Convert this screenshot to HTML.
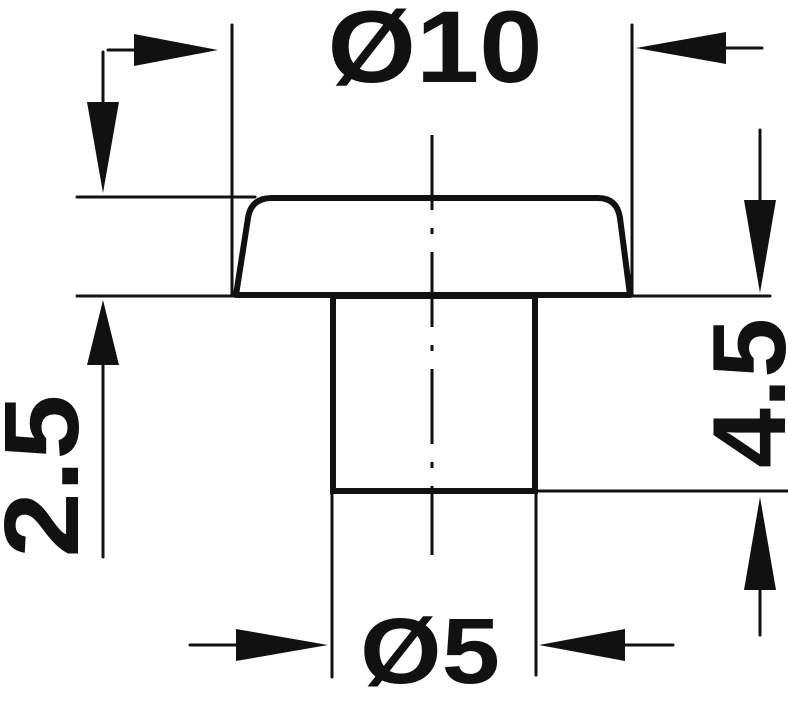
<!DOCTYPE html>
<html><head><style>html,body{margin:0;padding:0;background:#fff}svg{display:block}</style></head>
<body>
<svg width="788" height="703" viewBox="0 0 788 703" xmlns="http://www.w3.org/2000/svg" font-family="Liberation Sans, sans-serif" font-weight="bold">
<g stroke="#111" fill="none" stroke-linecap="round">
<line x1="77" y1="197" x2="255" y2="197" stroke-width="3"/>
<line x1="77" y1="296" x2="235" y2="296" stroke-width="3"/>
<line x1="630" y1="296" x2="770" y2="296" stroke-width="3"/>
<line x1="232" y1="25" x2="232" y2="296" stroke-width="3"/>
<line x1="632" y1="25" x2="632" y2="296" stroke-width="3"/>
<line x1="535" y1="491" x2="788" y2="491" stroke-width="3"/>
<line x1="332" y1="490" x2="332" y2="677" stroke-width="3"/>
<line x1="536" y1="490" x2="536" y2="675" stroke-width="3"/>
<path d="M236 295 L248 218 Q251 198 272 198 L598 198 Q617 198 620 218 L630 295 Z" stroke-width="6" stroke-linejoin="round"/>
<rect x="333" y="296" width="202" height="195" stroke-width="6"/>
<line x1="432" y1="135" x2="432" y2="555" stroke-width="3" stroke-dasharray="75 18 6 18" stroke-linecap="butt"/>
<line x1="108" y1="50" x2="140" y2="50" stroke-width="3"/>
<line x1="103" y1="52" x2="103" y2="110" stroke-width="3"/>
<line x1="762" y1="48" x2="720" y2="48" stroke-width="3"/>
<line x1="760" y1="130" x2="760" y2="205" stroke-width="3"/>
<line x1="103" y1="557" x2="103" y2="360" stroke-width="3"/>
<line x1="760" y1="635" x2="760" y2="585" stroke-width="3"/>
<line x1="190" y1="645" x2="240" y2="645" stroke-width="3"/>
<line x1="673" y1="645" x2="620" y2="645" stroke-width="3"/>
</g>
<g fill="#111">
<polygon points="134,34 218,50 134,66"/>
<polygon points="87,102 119,102 103,193"/>
<polygon points="726,32 726,64 636,48"/>
<polygon points="744,200 776,200 760,293"/>
<polygon points="87,365 119,365 103,300"/>
<polygon points="744,590 776,590 760,497"/>
<polygon points="236,629 236,661 328,645"/>
<polygon points="625,629 625,661 539,645"/>
</g>
<text x="435" y="82" font-size="102" text-anchor="middle" textLength="215" lengthAdjust="spacingAndGlyphs" fill="#111">Ø10</text>
<text x="430" y="683" font-size="93" text-anchor="middle" textLength="140" lengthAdjust="spacingAndGlyphs" fill="#111">Ø5</text>
<text transform="translate(78,476) rotate(-90)" font-size="106" text-anchor="middle" textLength="163" lengthAdjust="spacingAndGlyphs" fill="#111">2.5</text>
<text transform="translate(785,393) rotate(-90)" font-size="104" text-anchor="middle" textLength="150" lengthAdjust="spacingAndGlyphs" fill="#111">4.5</text>
</svg>
</body></html>
